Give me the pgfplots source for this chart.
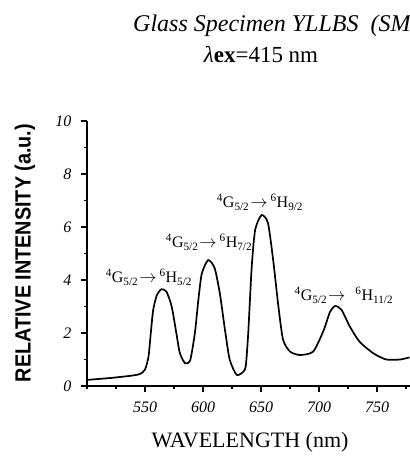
\documentclass[border=0pt]{standalone}
\usepackage{pgfplots}
\pgfplotsset{compat=1.18}
\usepackage{fontspec}
\setmainfont{Liberation Serif}
\newfontfamily\sansb{Liberation Sans}
\newcommand{\tr}[2]{\textsuperscript{4}G\textsubscript{5/2}\kern1pt$\rightarrow$\hspace{#2}\textsuperscript{6}H\textsubscript{#1}}
\begin{document}
\begin{tikzpicture}[x=1pt,y=1pt]
\begin{axis}[
  at={(87pt,70pt)}, anchor=south west,
  x=1.16pt, y=26.5pt,
  xmin=500, xmax=780, ymin=0, ymax=10,
  axis lines=left,
  axis line style={line width=1.3pt,-},
  clip=false,
  xtick={550,600,650,700,750},
  minor xtick={500,525,575,625,675,725,775},
  ytick={0,2,4,6,8,10},
  minor ytick={1,3,5,7,9},
  tick align=outside,
  major tick length=6pt, minor tick length=3pt,
  every tick/.style={line width=1.1pt,black},
  /pgf/number format/assume math mode=true,
  ticklabel style={font=\itshape\fontsize{16}{16}\selectfont},
  xticklabel style={yshift=-6pt},
  yticklabel style={xshift=-6pt},
]
\addplot[black, line width=1.7pt, smooth, tension=0.4] coordinates {
(500,0.23) (522,0.31) (540,0.40) (546,0.46) (550,0.62) (553,1.1) (555,2.0)
(557,2.85) (560,3.40) (564,3.65) (568.5,3.56) (573,3.0) (577,2.0) (580,1.25)
(584.5,0.86) (589,0.98) (593,2.0) (596,3.25) (599,4.25) (604.5,4.75) (610,4.45)
(614.5,3.5) (619,2.1) (623,1.0) (629,0.42) (635,0.55) (637,0.8) (639,2.0)
(642,4.5) (645,5.9) (650.5,6.45) (656,6.15) (660.5,4.75) (665,3.0) (669,1.75)
(675,1.3) (683.5,1.17) (695,1.3) (704,2.1) (709.5,2.8) (714,3.02) (719.5,2.87)
(726.5,2.25) (735,1.67) (747,1.23) (758,1.0) (770,1.0) (778,1.08)
};
\tikzset{ann/.style={font=\fontsize{16}{16}\selectfont, inner sep=0pt}}
\node[ann] at (axis cs:553.4,4.11) {\tr{5/2}{3pt}};
\node[ann] at (axis cs:605.2,5.43) {\tr{7/2}{3pt}};
\node[ann] at (axis cs:649.1,6.94) {\tr{9/2}{3pt}};
\node[ann] at (axis cs:721.5,3.43) {\tr{11/2}{10pt}};
\end{axis}
\node[anchor=base west, inner sep=0pt, font=\itshape\fontsize{24}{24}\selectfont] at (133,424) {Glass Specimen YLLBS\ \ (SM};
\node[anchor=base, inner sep=0pt, font=\fontsize{23}{23}\selectfont] at (261,393) {\textit{λ}\textbf{ex}=415 nm};
\node[anchor=base, inner sep=0pt, font=\fontsize{22}{22}\selectfont] at (250,9) {WAVELENGTH (nm)};
\node[rotate=90, inner sep=0pt, font=\sansb\bfseries\fontsize{22}{22}\selectfont] at (25,203) {\scalebox{0.9}[1]{RELATIVE INTENSITY (a.u.)}};
\pgfresetboundingbox
\useasboundingbox (0,0) rectangle (410,456);
\end{tikzpicture}
\end{document}
